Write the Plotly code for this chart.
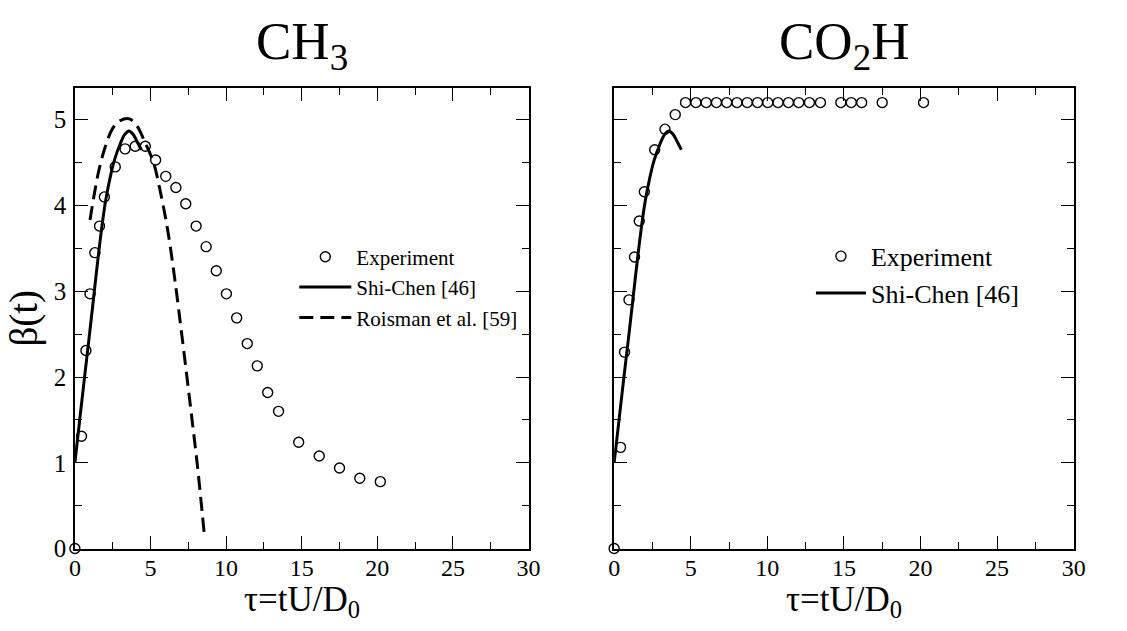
import plotly.graph_objects as go

# ---------------- data ----------------
# CH3 panel: experiment
ch3_exp_x = [0, 0.44, 0.73, 1.0, 1.32, 1.63, 1.95, 2.67, 3.32, 3.99, 4.66, 5.34, 6.01, 6.68,
             7.33, 8.02, 8.68, 9.35, 10.02, 10.7, 11.4, 12.06, 12.75, 13.47, 14.8, 16.16,
             17.5, 18.84, 20.2]
ch3_exp_y = [0, 1.31, 2.31, 2.97, 3.45, 3.76, 4.10, 4.45, 4.66, 4.69, 4.69, 4.53, 4.34, 4.21,
             4.02, 3.76, 3.52, 3.24, 2.97, 2.69, 2.39, 2.13, 1.82, 1.60, 1.24, 1.08,
             0.94, 0.82, 0.78]

# Shi-Chen model (same curve in both panels)
shichen_x = [0, 0.3, 0.62, 1.0, 1.38, 1.69, 2.0, 2.3, 2.6, 3.0, 3.3, 3.58, 3.85, 4.1, 4.39]
shichen_y = [1.0, 1.47, 1.97, 2.55, 3.15, 3.62, 4.02, 4.30, 4.52, 4.72, 4.83, 4.87, 4.83, 4.75, 4.65]

# Roisman et al. model (CH3 panel)
roisman_x = [1.0, 1.3, 1.6, 2.0, 2.5, 3.0, 3.6, 4.1, 4.6, 5.2, 5.7, 6.15, 6.6, 7.1, 7.6, 8.1, 8.55]
roisman_y = [3.83, 4.15, 4.42, 4.68, 4.90, 4.99, 5.01, 4.93, 4.75, 4.50, 4.12, 3.70, 3.15, 2.45,
             1.72, 0.97, 0.18]

# CO2H panel: experiment
co2h_exp_x = [0, 0.42, 0.68, 0.97, 1.33, 1.64, 1.97, 2.65, 3.32, 3.99, 4.66, 5.34, 6.01, 6.68,
              7.35, 8.02, 8.69, 9.36, 10.03, 10.7, 11.38, 12.05, 12.75, 13.47, 14.8, 15.48,
              16.16, 17.5, 20.2]
co2h_exp_y = [0, 1.18, 2.29, 2.90, 3.40, 3.82, 4.16, 4.65, 4.89, 5.06, 5.2, 5.2, 5.2, 5.2,
              5.2, 5.2, 5.2, 5.2, 5.2, 5.2, 5.2, 5.2, 5.2, 5.2, 5.2, 5.2,
              5.2, 5.2, 5.2]

x_ticks = [0, 5, 10, 15, 20, 25, 30]
y_ticks = [0, 1, 2, 3, 4, 5]

FONT = "Liberation Serif, Times New Roman, serif"
W, H = 1127, 631

fig = go.Figure()

marker = dict(symbol="circle-open", size=10, color="black", line=dict(width=1.4, color="black"))

fig.add_trace(go.Scatter(x=ch3_exp_x, y=ch3_exp_y, mode="markers", marker=marker,
                         name="Experiment", xaxis="x", yaxis="y", cliponaxis=False,
                         legend="legend"))
fig.add_trace(go.Scatter(x=shichen_x, y=shichen_y, mode="lines", line=dict(color="black", width=3),
                         name="Shi-Chen [46]", xaxis="x", yaxis="y", legend="legend",
                         line_shape="spline"))
fig.add_trace(go.Scatter(x=roisman_x, y=roisman_y, mode="lines",
                         line=dict(color="black", width=3, dash="14px,7px"),
                         name="Roisman et al. [59]", xaxis="x", yaxis="y", legend="legend",
                         line_shape="spline"))

fig.add_trace(go.Scatter(x=co2h_exp_x, y=co2h_exp_y, mode="markers", marker=marker,
                         name="Experiment", xaxis="x2", yaxis="y2", cliponaxis=False,
                         legend="legend2"))
fig.add_trace(go.Scatter(x=shichen_x, y=shichen_y, mode="lines", line=dict(color="black", width=3),
                         name="Shi-Chen [46]", xaxis="x2", yaxis="y2", legend="legend2",
                         line_shape="spline"))

X0_1, X1_1 = 70, 531
X0_2, X1_2 = 618, 1085
Y_TOP, Y_BOT = 90, 561
xd1 = [X0_1 / W, X1_1 / W]
xd2 = [X0_2 / W, X1_2 / W]
yd = [(H - Y_BOT) / H, (H - Y_TOP) / H]

common_x = dict(range=[0, 30], tickvals=x_ticks, ticks="inside", ticklen=13, tickwidth=1.3,
                tickcolor="black", showline=True, linecolor="black", linewidth=1.5, mirror="ticks",
                showgrid=False, zeroline=False, ticklabelstandoff=-3,
                tickfont=dict(family=FONT, size=24, color="black"),
                minor=dict(dtick=2.5, ticks="inside", ticklen=7, tickwidth=1.2, tickcolor="black",
                           showgrid=False))
common_y = dict(range=[0, 5.37], tickvals=y_ticks, ticks="inside", ticklen=13, tickwidth=1.3,
                tickcolor="black", showline=True, linecolor="black", linewidth=1.5, mirror="ticks",
                showgrid=False, zeroline=False, ticklabelstandoff=2,
                tickfont=dict(family=FONT, size=25, color="black"),
                minor=dict(dtick=0.5, ticks="inside", ticklen=7, tickwidth=1.2, tickcolor="black",
                           showgrid=False))

title_font = dict(family=FONT, size=53, color="black")
axis_font = dict(family=FONT, size=35, color="black")
x_title_y = (H - 615) / H

fig.update_layout(
    width=W, height=H,
    margin=dict(l=0, r=0, t=0, b=0),
    paper_bgcolor="white", plot_bgcolor="white",
    font=dict(family=FONT, color="black"),
    xaxis=dict(domain=xd1, anchor="y", **common_x),
    yaxis=dict(domain=yd, anchor="x",
               title=dict(text="β(t)", font=dict(family=FONT, size=39, color="black"), standoff=4),
               **common_y),
    xaxis2=dict(domain=xd2, anchor="y2", **common_x),
    yaxis2=dict(domain=yd, anchor="x2", showticklabels=False, **common_y),
    legend=dict(x=293 / W, y=(H - 242) / H, xanchor="left", yanchor="top",
                bgcolor="rgba(0,0,0,0)", font=dict(family=FONT, size=21, color="black"),
                itemwidth=52, tracegroupgap=0),
    legend2=dict(x=818 / W, y=(H - 238) / H, xanchor="left", yanchor="top",
                 bgcolor="rgba(0,0,0,0)", font=dict(family=FONT, size=26, color="black"),
                 itemwidth=50, tracegroupgap=0),
    annotations=[
        dict(text="CH<sub>3</sub>", x=(xd1[0] + xd1[1]) / 2, y=(H - 46) / H, xref="paper",
             yref="paper", xanchor="center", yanchor="middle", showarrow=False, font=title_font),
        dict(text="CO<sub>2</sub>H", x=(xd2[0] + xd2[1]) / 2, y=(H - 46) / H, xref="paper",
             yref="paper", xanchor="center", yanchor="middle", showarrow=False, font=title_font),
        dict(text="τ=tU/D<sub>0</sub>", x=(xd1[0] + xd1[1]) / 2, y=x_title_y, xref="paper",
             yref="paper", xanchor="center", yanchor="middle", showarrow=False, font=axis_font),
        dict(text="τ=tU/D<sub>0</sub>", x=(xd2[0] + xd2[1]) / 2, y=x_title_y, xref="paper",
             yref="paper", xanchor="center", yanchor="middle", showarrow=False, font=axis_font),
    ],
    showlegend=True,
)

fig.write_html("out.html")
